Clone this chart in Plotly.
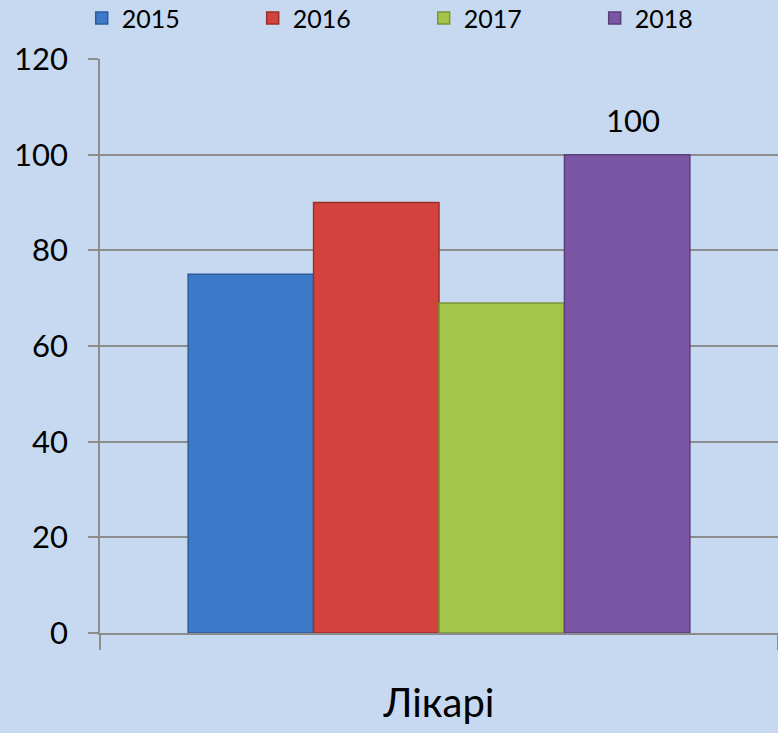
import plotly.graph_objects as go

categories = ["Лікарі"]
years = ["2015", "2016", "2017", "2018"]
values = [[75], [90], [69], [100]]
label_year = "2018"
label_text = "100"

colors = ["#3d79c9", "#d4423e", "#a3c54a", "#7b56a4"]
edges = ["#2e5c99", "#9c2e2b", "#7a9436", "#5a3f7a"]
bargap = 0.26

fig = go.Figure()
for i, year in enumerate(years):
    fig.add_trace(
        go.Bar(
            name=year,
            x=categories,
            y=values[i],
            marker=dict(color=colors[i], line=dict(color=edges[i], width=1.5)),
        )
    )

# data label above the 2018 bar (position derived from group layout)
k = years.index(label_year)
offset = (1 - bargap) * ((k + 0.5) / len(years) - 0.5)
fig.add_annotation(
    x=offset,
    y=values[k][0],
    xref="x",
    yref="y",
    text=label_text,
    showarrow=False,
    yanchor="bottom",
    yshift=14,
    xshift=6,
    font=dict(size=31, color="black"),
)

fig.update_layout(
    width=778,
    height=733,
    barmode="group",
    bargap=bargap,
    bargroupgap=0,
    paper_bgcolor="#c6d9f1",
    plot_bgcolor="#c6d9f1",
    font=dict(family="Lato, Open Sans, sans-serif", size=31, color="black"),
    margin=dict(l=100, r=0, t=59, b=100, autoexpand=False),
    legend=dict(
        orientation="h",
        x=-0.027,
        xanchor="left",
        y=1.031,
        yanchor="bottom",
        entrywidth=126,
        entrywidthmode="pixels",
        font=dict(size=25),
        bgcolor="rgba(0,0,0,0)",
    ),
    showlegend=True,
)

fig.update_yaxes(
    range=[0, 120],
    dtick=20,
    showgrid=True,
    gridcolor="#8c8c8c",
    gridwidth=1.5,
    showline=True,
    linecolor="#8c8c8c",
    linewidth=1.5,
    ticks="outside",
    ticklen=10,
    tickcolor="#8c8c8c",
    tickwidth=1.5,
    ticklabelstandoff=14,
    zeroline=False,
    tickfont=dict(size=31),
)
fig.update_xaxes(
    showline=True,
    linecolor="#8c8c8c",
    linewidth=1.5,
    ticks="outside",
    tickson="boundaries",
    ticklen=15,
    tickcolor="#8c8c8c",
    tickwidth=1.5,
    ticklabelstandoff=34,
    tickfont=dict(size=40),
)

fig.write_html(
    "out.html",
    config={"displayModeBar": False},
    post_script="document.body.style.margin='0';",
)
